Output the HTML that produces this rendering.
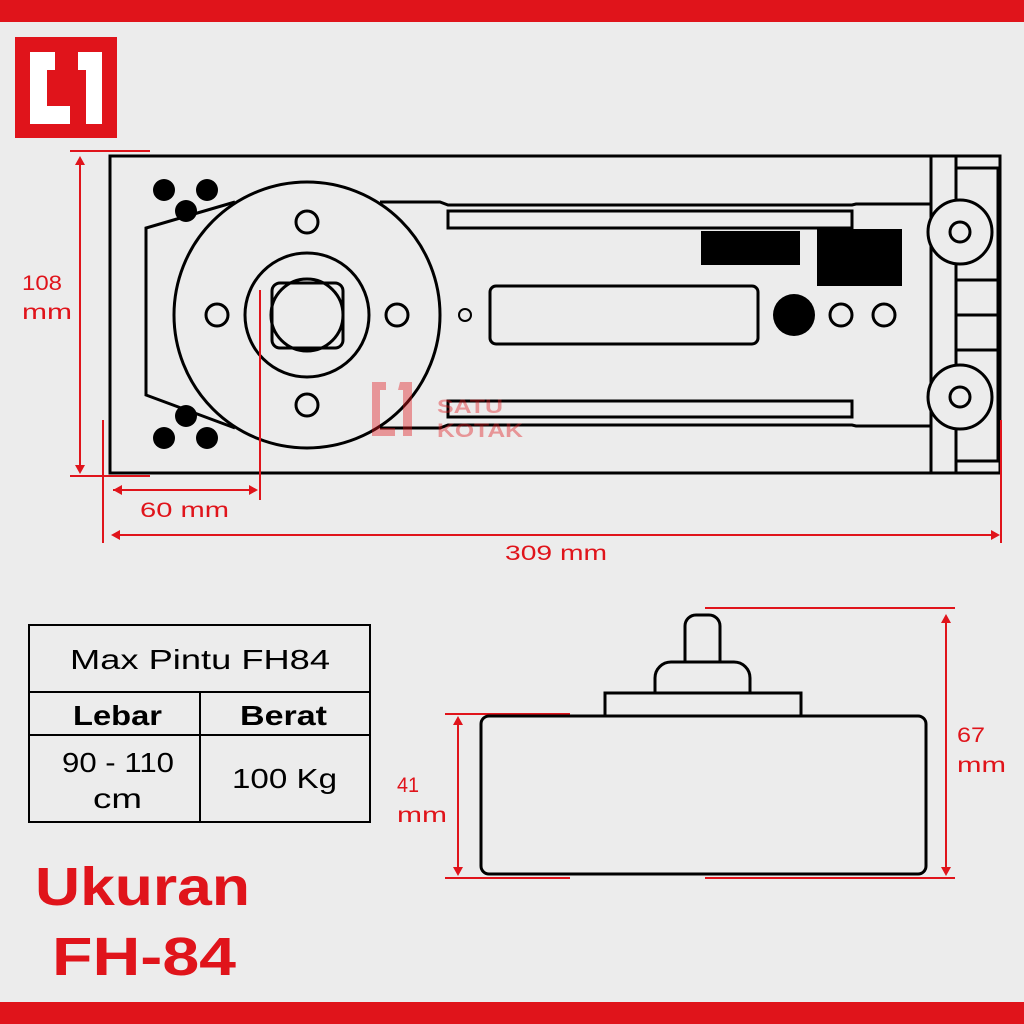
<!DOCTYPE html>
<html><head><meta charset="utf-8"><style>
body{margin:0;background:#ececec;}
svg{display:block}
text{font-family:"Liberation Sans",sans-serif;}
</style></head><body>
<svg width="1024" height="1024" viewBox="0 0 1024 1024" xmlns="http://www.w3.org/2000/svg">
<rect width="1024" height="1024" fill="#ececec"/>
<rect x="0" y="0" width="1024" height="22" fill="#e0141b"/>
<rect x="0" y="1002" width="1024" height="22" fill="#e0141b"/>
<rect x="15" y="37" width="102" height="101" fill="#e0141b"/>
<path d="M30 52 H55 V70 H47 V106 H70 V124 H30 Z M78 52 H102 V124 H86 V70 H78 Z" fill="#fff"/>
<g fill="none" stroke="#000" stroke-width="3">
<rect x="110" y="156" width="890" height="317"/>
<line x1="931" y1="156" x2="931" y2="473"/>
<line x1="956" y1="156" x2="956" y2="473"/>
<rect x="956" y="168" width="42" height="293"/>
<line x1="956" y1="280" x2="998" y2="280"/>
<line x1="956" y1="315" x2="998" y2="315"/>
<line x1="956" y1="350" x2="998" y2="350"/>
<path d="M235 202 L146 228 L146 395 L235 428"/>
<path d="M380 202 H440 L448 205 H852 L856 204 H931"/>
<path d="M380 428 H440 L448 425 H852 L856 426 H931"/>
<rect x="448" y="211" width="404" height="17"/>
<rect x="448" y="401" width="404" height="16"/>
<rect x="490" y="286" width="268" height="58" rx="6"/>
<circle cx="307" cy="315" r="133" fill="#ececec"/>
<circle cx="307" cy="315" r="62"/>
<rect x="272" y="283" width="71" height="65" rx="8" fill="#ececec"/>
<circle cx="307" cy="315" r="36"/>
<circle cx="307" cy="222" r="11"/>
<circle cx="307" cy="405" r="11"/>
<circle cx="217" cy="315" r="11"/>
<circle cx="397" cy="315" r="11"/>
<circle cx="465" cy="315" r="6" stroke-width="2"/>
<circle cx="841" cy="315" r="11"/>
<circle cx="884" cy="315" r="11"/>
<circle cx="960" cy="232" r="32" fill="#ececec"/>
<circle cx="960" cy="232" r="10"/>
<circle cx="960" cy="397" r="32" fill="#ececec"/>
<circle cx="960" cy="397" r="10"/>
</g>
<g fill="#000">
<circle cx="164" cy="190" r="11"/><circle cx="207" cy="190" r="11"/><circle cx="186" cy="211" r="11"/>
<circle cx="186" cy="416" r="11"/><circle cx="164" cy="438" r="11"/><circle cx="207" cy="438" r="11"/>
<rect x="701" y="231" width="99" height="34"/>
<rect x="817" y="229" width="85" height="57"/>
<circle cx="794" cy="315" r="21"/>
</g>
<g opacity="0.4" fill="#e0141b">
<path d="M372 382 H386 V390 H380 V428 H395 V436 H372 Z M400 382 H412 V436 H403 V390 H398 Z"/>
<text x="437" y="413" font-size="19" font-weight="bold" textLength="66" lengthAdjust="spacingAndGlyphs">SATU</text>
<text x="437" y="437" font-size="19" font-weight="bold" textLength="86" lengthAdjust="spacingAndGlyphs">KOTAK</text>
</g>
<g stroke="#e0141b" stroke-width="2" fill="none">
<line x1="70" y1="151" x2="150" y2="151"/>
<line x1="70" y1="476" x2="150" y2="476"/>
<line x1="80" y1="160" x2="80" y2="470"/>
<line x1="103" y1="420" x2="103" y2="543"/>
<line x1="260" y1="290" x2="260" y2="500"/>
<line x1="113" y1="490" x2="256" y2="490"/>
<line x1="113" y1="535" x2="998" y2="535"/>
<line x1="1001" y1="420" x2="1001" y2="543"/>
<line x1="458" y1="720" x2="458" y2="872"/>
<line x1="445" y1="714" x2="570" y2="714"/>
<line x1="445" y1="878" x2="570" y2="878"/>
<line x1="946" y1="620" x2="946" y2="872"/>
<line x1="705" y1="608" x2="955" y2="608"/>
<line x1="705" y1="878" x2="955" y2="878"/>
</g>
<g fill="#e0141b">
<path d="M80 156 l-5 9 h10z M80 474 l-5 -9 h10z M113 490 l9 -5 v10z M258 490 l-9 -5 v10z M111 535 l9 -5 v10z M1000 535 l-9 -5 v10z M458 716 l-5 9 h10z M458 876 l-5 -9 h10z M946 614 l-5 9 h10z M946 876 l-5 -9 h10z"/>
</g>
<g fill="#e0141b" font-size="21" lengthAdjust="spacingAndGlyphs">
<text x="22" y="290" textLength="40" lengthAdjust="spacingAndGlyphs">108</text>
<text x="22" y="319" textLength="50" lengthAdjust="spacingAndGlyphs">mm</text>
<text x="140" y="517" textLength="89" lengthAdjust="spacingAndGlyphs">60 mm</text>
<text x="505" y="560" textLength="102" lengthAdjust="spacingAndGlyphs">309 mm</text>
<text x="397" y="792" textLength="22" lengthAdjust="spacingAndGlyphs">41</text>
<text x="397" y="822" textLength="50" lengthAdjust="spacingAndGlyphs">mm</text>
<text x="957" y="742" textLength="28" lengthAdjust="spacingAndGlyphs">67</text>
<text x="957" y="772" textLength="49" lengthAdjust="spacingAndGlyphs">mm</text>
</g>
<g fill="none" stroke="#000" stroke-width="2">
<rect x="29" y="625" width="341" height="197"/>
<line x1="29" y1="692" x2="370" y2="692"/>
<line x1="29" y1="735" x2="370" y2="735"/>
<line x1="200" y1="692" x2="200" y2="822"/>
</g>
<g fill="#000" font-size="28">
<text x="70" y="669" textLength="260" lengthAdjust="spacingAndGlyphs">Max Pintu FH84</text>
<text x="73" y="725" font-weight="bold" textLength="89" lengthAdjust="spacingAndGlyphs">Lebar</text>
<text x="240" y="725" font-weight="bold" textLength="87" lengthAdjust="spacingAndGlyphs">Berat</text>
<text x="62" y="772" textLength="112" lengthAdjust="spacingAndGlyphs">90 - 110</text>
<text x="93" y="808" textLength="49" lengthAdjust="spacingAndGlyphs">cm</text>
<text x="232" y="788" textLength="105" lengthAdjust="spacingAndGlyphs">100 Kg</text>
</g>
<text x="35" y="905" font-size="54" font-weight="bold" fill="#e0141b" textLength="215" lengthAdjust="spacingAndGlyphs">Ukuran</text>
<text x="52" y="975" font-size="54" font-weight="bold" fill="#e0141b" textLength="184" lengthAdjust="spacingAndGlyphs">FH-84</text>
<g fill="none" stroke="#000" stroke-width="3">
<path d="M685 662 V626 a11 11 0 0 1 11 -11 H709 a11 11 0 0 1 11 11 V662"/>
<path d="M655 693 V678 a16 16 0 0 1 16 -16 H734 a16 16 0 0 1 16 16 V693"/>
<rect x="605" y="693" width="196" height="23"/>
<rect x="481" y="716" width="445" height="158" rx="8"/>
</g>
</svg>
</body></html>
